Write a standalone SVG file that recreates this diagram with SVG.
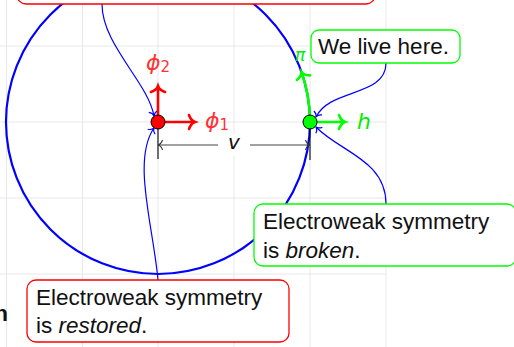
<svg xmlns="http://www.w3.org/2000/svg" width="514" height="347" viewBox="0 0 514 347">
<style>
.grid{stroke:#e8e8e8;stroke-width:1;fill:none}
.conn{stroke:#0000ff;stroke-width:1.2;fill:none;marker-end:url(#bh)}
.box-r{fill:#fff;stroke:#ff0000;stroke-width:1.3}
.box-g{fill:#fff;stroke:#00ff00;stroke-width:1.3}
.txt{font-family:"Liberation Sans",Arial,sans-serif;font-size:22.5px;fill:#111}
.math{font-family:"DejaVu Sans","Liberation Sans",sans-serif;font-style:oblique}
</style>
<defs>
<marker id="bh" markerUnits="userSpaceOnUse" markerWidth="12" markerHeight="12" viewBox="-6 -6 12 12" orient="auto" overflow="visible">
<path d="M-4.5,-4.5 C-3.5,-1.6 -1.2,-0.3 0,0 C-1.2,0.3 -3.5,1.6 -4.5,4.5" fill="none" stroke="#0000ff" stroke-width="1.1"/>
</marker>
<marker id="rh" markerUnits="userSpaceOnUse" markerWidth="16" markerHeight="16" viewBox="-8 -8 16 16" orient="auto" overflow="visible">
<path d="M-6,-7 C-4.5,-2.5 -1.5,-0.5 0,0 C-1.5,0.5 -4.5,2.5 -6,7" fill="none" stroke="#ff0000" stroke-width="2.6" stroke-linecap="round"/>
</marker>
<marker id="gh" markerUnits="userSpaceOnUse" markerWidth="16" markerHeight="16" viewBox="-8 -8 16 16" orient="auto" overflow="visible">
<path d="M-6,-7 C-4.5,-2.5 -1.5,-0.5 0,0 C-1.5,0.5 -4.5,2.5 -6,7" fill="none" stroke="#00ff00" stroke-width="2.6" stroke-linecap="round"/>
</marker>
<marker id="kh" markerUnits="userSpaceOnUse" markerWidth="12" markerHeight="12" viewBox="-6 -6 12 12" orient="auto-start-reverse" overflow="visible">
<path d="M-4.5,-5 C-3.5,-1.8 -1.2,-0.3 0,0 C-1.2,0.3 -3.5,1.8 -4.5,5" fill="none" stroke="#333" stroke-width="1.1"/>
</marker>
</defs>

<g id="grid">
<path class="grid" d="M6.5,0V347M82.5,0V347M158,0V347M234,0V347M310,0V347M386,0V347M0,46H386M0,122H386M0,198H386M0,274H386"/>
</g>

<g id="circle">
<circle cx="158" cy="122" r="152" fill="none" stroke="#0000ff" stroke-width="2.2"/>
</g>

<g id="connectors">
<path class="conn" d="M102,4 C102,45 148,82 154,116"/>
<path class="conn" d="M158,280 C153,225 132,160 154,128"/>
<path class="conn" d="M386,63 C386,97 330,88 316,117"/>
<path class="conn" d="M386,204 C386,160 340,152 316,127"/>
</g>

<g id="dimension">
<line x1="158" y1="122" x2="158" y2="159" stroke="#000" stroke-width="1.1"/>
<line x1="310" y1="122" x2="310" y2="160" stroke="#000" stroke-width="1.1"/>
<line x1="158" y1="145" x2="310" y2="145" stroke="#444" stroke-width="1.1" marker-start="url(#kh)" marker-end="url(#kh)"/>
<rect x="218" y="134" width="32" height="22" fill="#fff"/>
<text x="234" y="149" text-anchor="middle" class="math" font-size="20" fill="#111">v</text>
</g>

<g id="red-vacuum">
<line x1="158" y1="122" x2="158" y2="86" stroke="#ff0000" stroke-width="2.6" marker-end="url(#rh)"/>
<line x1="158" y1="122" x2="195" y2="122" stroke="#ff0000" stroke-width="2.6" marker-end="url(#rh)"/>
<circle cx="158" cy="122" r="7" fill="#ff0000" stroke="#000" stroke-width="1"/>
<text x="146" y="70" class="math" font-size="22" fill="#ff3333">ϕ<tspan font-size="15" font-style="normal" dy="2">2</tspan></text>
<text x="205" y="128" class="math" font-size="22" fill="#ff3333">ϕ<tspan font-size="15" font-style="normal" dy="2">1</tspan></text>
</g>

<g id="green-vacuum">
<path d="M310,122 A152,152 0 0 0 301.5,72" fill="none" stroke="#00ff00" stroke-width="2.6" marker-end="url(#gh)"/>
<line x1="310" y1="122" x2="345" y2="122" stroke="#00ff00" stroke-width="2.6" marker-end="url(#gh)"/>
<circle cx="310" cy="122" r="7" fill="#00ff00" stroke="#000" stroke-width="1"/>
<text x="357" y="129" class="math" font-size="22" fill="#00ee00">h</text>
<text x="300" y="61" text-anchor="middle" class="math" font-size="17" fill="#00ee00">π</text>
</g>

<g id="top-box">
<rect class="box-r" x="17" y="-60" width="358" height="64" rx="9"/>
</g>

<g id="live-box">
<rect class="box-g" x="311" y="30" width="149" height="33" rx="8"/>
<text x="318" y="54" class="txt">We live here.</text>
</g>

<g id="broken-box">
<rect class="box-g" x="254" y="204" width="262" height="62" rx="9"/>
<text x="263" y="229" class="txt">Electroweak symmetry</text>
<text x="263" y="258" class="txt">is <tspan font-style="italic">broken</tspan>.</text>
</g>

<g id="restored-box">
<rect class="box-r" x="27" y="280" width="262" height="62" rx="9"/>
<text x="36" y="305" class="txt">Electroweak symmetry</text>
<text x="36" y="333" class="txt">is <tspan font-style="italic">restored</tspan>.</text>
</g>

<g id="cut-label">
<text x="8" y="321" text-anchor="end" class="txt" font-weight="bold">n</text>
</g>
</svg>
